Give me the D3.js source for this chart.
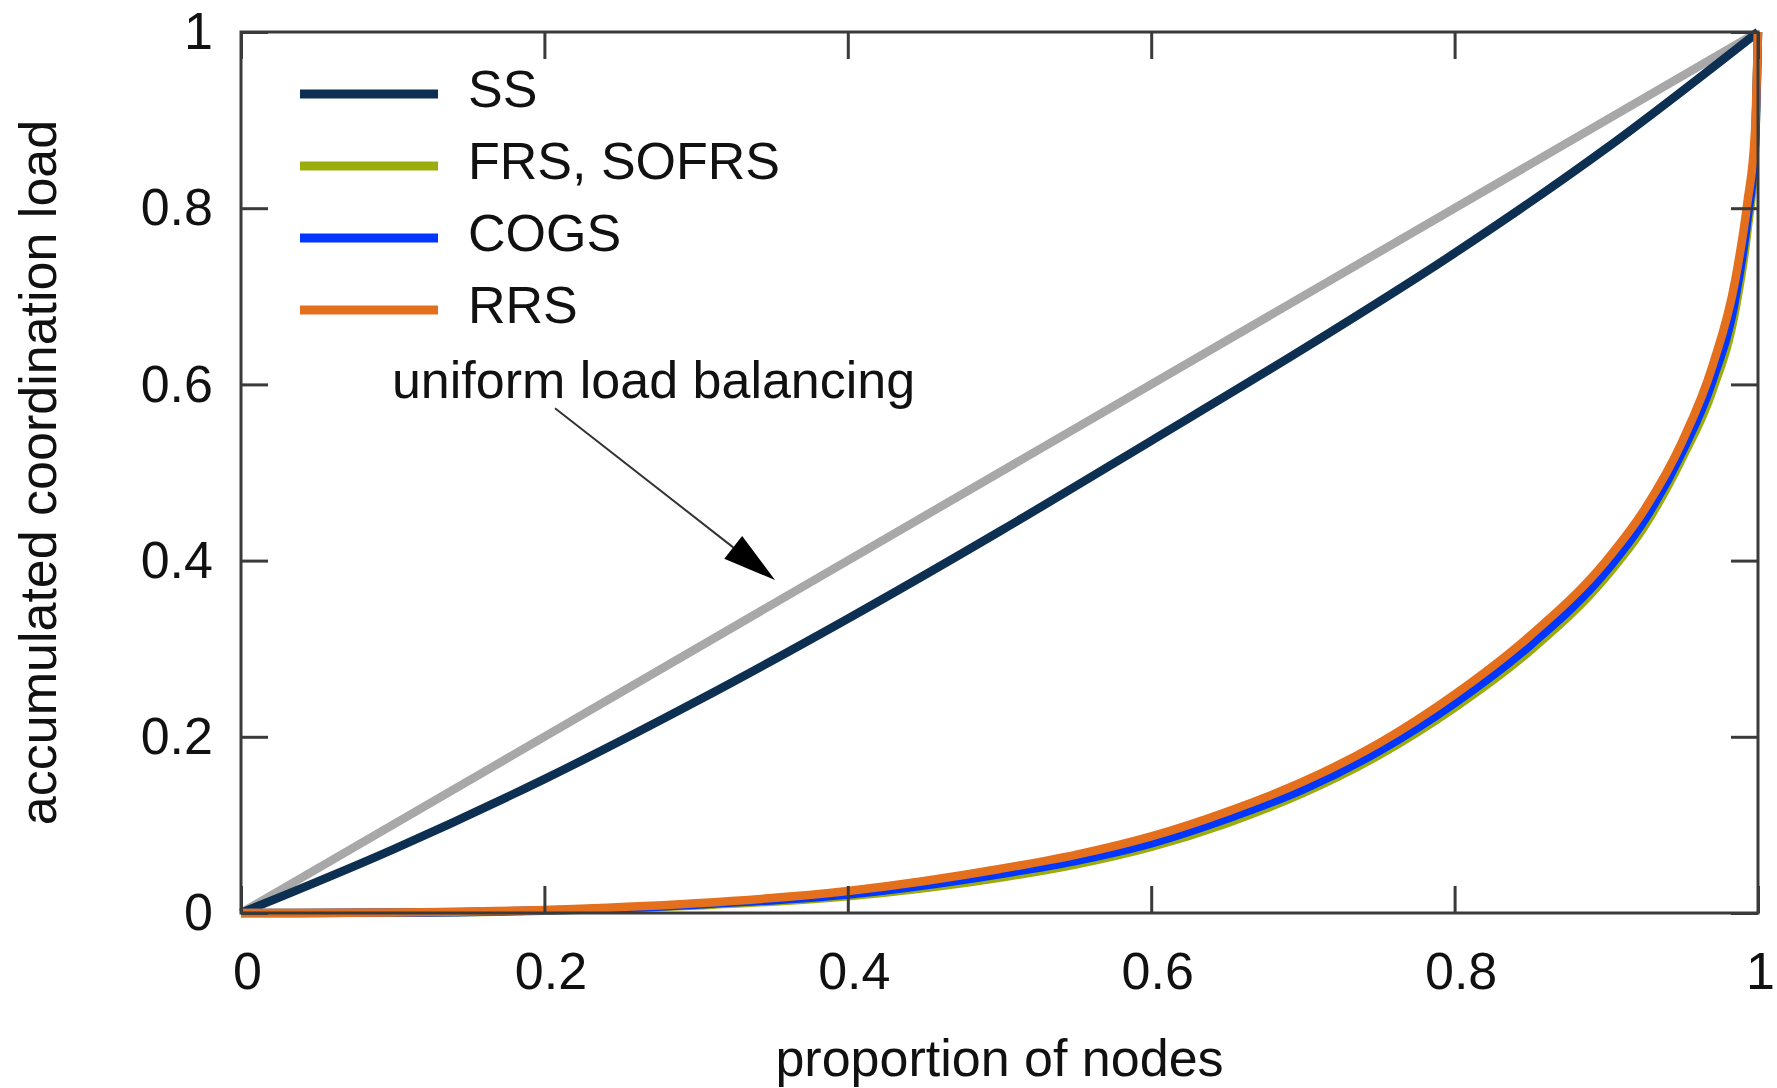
<!DOCTYPE html>
<html>
<head>
<meta charset="utf-8">
<script src="https://cdn.jsdelivr.net/npm/d3@7"></script>
<style>
  html, body { margin: 0; padding: 0; background: #fff; }
  svg { display: block; }
  text { font-family: "Liberation Sans", Arial, Helvetica, sans-serif; fill: #111; }
</style>
</head>
<body>
<svg id="chart" width="1777" height="1088"></svg>
<script>
// Tick values for both axes
const xTicks = [0, 0.2, 0.4, 0.6, 0.8, 1];
const yTicks = [0, 0.2, 0.4, 0.6, 0.8, 1];

// Uniform load balancing reference (diagonal)
const uniformX = [0, 1];
const uniformY = [0, 1];

// SS curve
const ssX = [0, 0.1, 0.2, 0.3, 0.4, 0.5, 0.6, 0.7, 0.8, 0.9, 1];
const ssY = [0, 0.072, 0.152, 0.240, 0.334, 0.433, 0.536, 0.640, 0.749, 0.868, 1];

// Shared x samples for the strongly skewed schemes
const lowX  = [0, 0.1, 0.2, 0.3, 0.4, 0.5, 0.55, 0.6, 0.65, 0.7, 0.75, 0.8, 0.85, 0.9, 0.925, 0.95, 0.97, 0.985, 0.993, 0.998, 1];
const frsY  = [0, 0.0004, 0.0025, 0.0085, 0.019, 0.040, 0.055, 0.075, 0.102, 0.136, 0.179, 0.233, 0.298, 0.382, 0.4385, 0.516, 0.593, 0.684, 0.774, 0.866, 1];
const cogsY = [0, 0.0005, 0.0030, 0.0095, 0.021, 0.044, 0.059, 0.079, 0.107, 0.140, 0.1835, 0.238, 0.304, 0.388, 0.4455, 0.523, 0.604, 0.697, 0.787, 0.872, 1];
const rrsY  = [0, 0.0006, 0.0035, 0.0110, 0.025, 0.050, 0.066, 0.087, 0.115, 0.149, 0.1925, 0.248, 0.315, 0.400, 0.4575, 0.535, 0.621, 0.7185, 0.8065, 0.8865, 1];

// Series names and colours (legend order)
const seriesNames  = ["SS", "FRS, SOFRS", "COGS", "RRS"];
const seriesColors = ["#0c2f52", "#9aad0c", "#0036ff", "#e4701e"];

// Annotation
const noteText = "uniform load balancing";

const svg = d3.select("#chart");
const plotLeft = 241, plotRight = 1758, plotTop = 32, plotBottom = 913;
const fontSize = 52;

const x = d3.scaleLinear().domain([0, 1]).range([plotLeft, plotRight]);
const y = d3.scaleLinear().domain([0, 1]).range([plotBottom, plotTop]);

const zip = (xs, ys) => xs.map((v, i) => [v, ys[i]]);
const line = d3.line().x(d => x(d[0])).y(d => y(d[1])).curve(d3.curveMonotoneX);

const curves = svg.append("g").attr("fill", "none").attr("stroke-width", 8.5);

curves.append("path")
  .attr("d", line(zip(uniformX, uniformY)))
  .attr("stroke", "#a8a8a8");

const seriesData = [zip(ssX, ssY), zip(lowX, frsY), zip(lowX, cogsY), zip(lowX, rrsY)];
seriesData.forEach((pts, i) => {
  curves.append("path")
    .attr("d", line(pts))
    .attr("stroke", seriesColors[i]);
});

// Axes with inward ticks on all four sides
const tickColor = "#3a3a3a";
function styleAxis(g) {
  g.select(".domain").remove();
  g.selectAll(".tick line").attr("stroke", tickColor).attr("stroke-width", 3);
  g.selectAll(".tick text").attr("font-size", fontSize).attr("fill", "#111")
    .attr("font-family", "Liberation Sans, Arial, sans-serif");
}
const fmt = d => String(d);

svg.append("g")
  .attr("transform", `translate(0,${plotBottom})`)
  .call(d3.axisBottom(x).tickValues(xTicks).tickSize(-27).tickSizeOuter(0).tickPadding(39).tickFormat(fmt))
  .call(styleAxis)
  .call(g => g.selectAll(".tick text").attr("dx", d => d === 1 ? 2 : 6));

svg.append("g")
  .attr("transform", `translate(${plotLeft},0)`)
  .call(d3.axisLeft(y).tickValues(yTicks).tickSize(-27).tickSizeOuter(0).tickPadding(28).tickFormat(fmt))
  .call(styleAxis);

svg.append("g")
  .attr("transform", `translate(0,${plotTop})`)
  .call(d3.axisTop(x).tickValues(xTicks).tickSize(-27).tickSizeOuter(0).tickFormat(""))
  .call(styleAxis);

svg.append("g")
  .attr("transform", `translate(${plotRight},0)`)
  .call(d3.axisRight(y).tickValues(yTicks).tickSize(-27).tickSizeOuter(0).tickFormat(""))
  .call(styleAxis);

// Plot frame
svg.append("rect")
  .attr("x", plotLeft).attr("y", plotTop)
  .attr("width", plotRight - plotLeft).attr("height", plotBottom - plotTop)
  .attr("fill", "none").attr("stroke", tickColor).attr("stroke-width", 3);

// Axis titles
svg.append("text")
  .attr("x", (plotLeft + plotRight) / 2).attr("y", 1076)
  .attr("text-anchor", "middle").attr("font-size", fontSize)
  .text("proportion of nodes");

svg.append("text")
  .attr("transform", `translate(56,${(plotTop + plotBottom) / 2}) rotate(-90)`)
  .attr("text-anchor", "middle").attr("font-size", fontSize)
  .text("accumulated coordination load");

// Legend
const legend = svg.append("g");
seriesNames.forEach((name, i) => {
  const ly = 94 + i * 72;
  legend.append("line")
    .attr("x1", 300).attr("x2", 438).attr("y1", ly).attr("y2", ly)
    .attr("stroke", seriesColors[i]).attr("stroke-width", 9);
  legend.append("text")
    .attr("x", 468).attr("y", ly + 13)
    .attr("font-size", fontSize)
    .text(name);
});

// Annotation with arrow pointing at the diagonal
svg.append("text")
  .attr("x", x(0.0995)).attr("y", y(0.5846))
  .attr("font-size", fontSize)
  .text(noteText);

const a0 = [x(0.207), y(0.573)];
const a1 = [x(0.352), y(0.378)];
const ang = Math.atan2(a1[1] - a0[1], a1[0] - a0[0]);
const headLen = 53, headHalf = 14.5;
const base = [a1[0] - headLen * Math.cos(ang), a1[1] - headLen * Math.sin(ang)];
svg.append("line")
  .attr("x1", a0[0]).attr("y1", a0[1]).attr("x2", base[0]).attr("y2", base[1])
  .attr("stroke", "#333").attr("stroke-width", 2);
const px = -Math.sin(ang), py = Math.cos(ang);
svg.append("path")
  .attr("d", `M${a1[0]},${a1[1]} L${base[0] + px * headHalf},${base[1] + py * headHalf} L${base[0] - px * headHalf},${base[1] - py * headHalf} Z`)
  .attr("fill", "#000");
</script>
</body>
</html>
